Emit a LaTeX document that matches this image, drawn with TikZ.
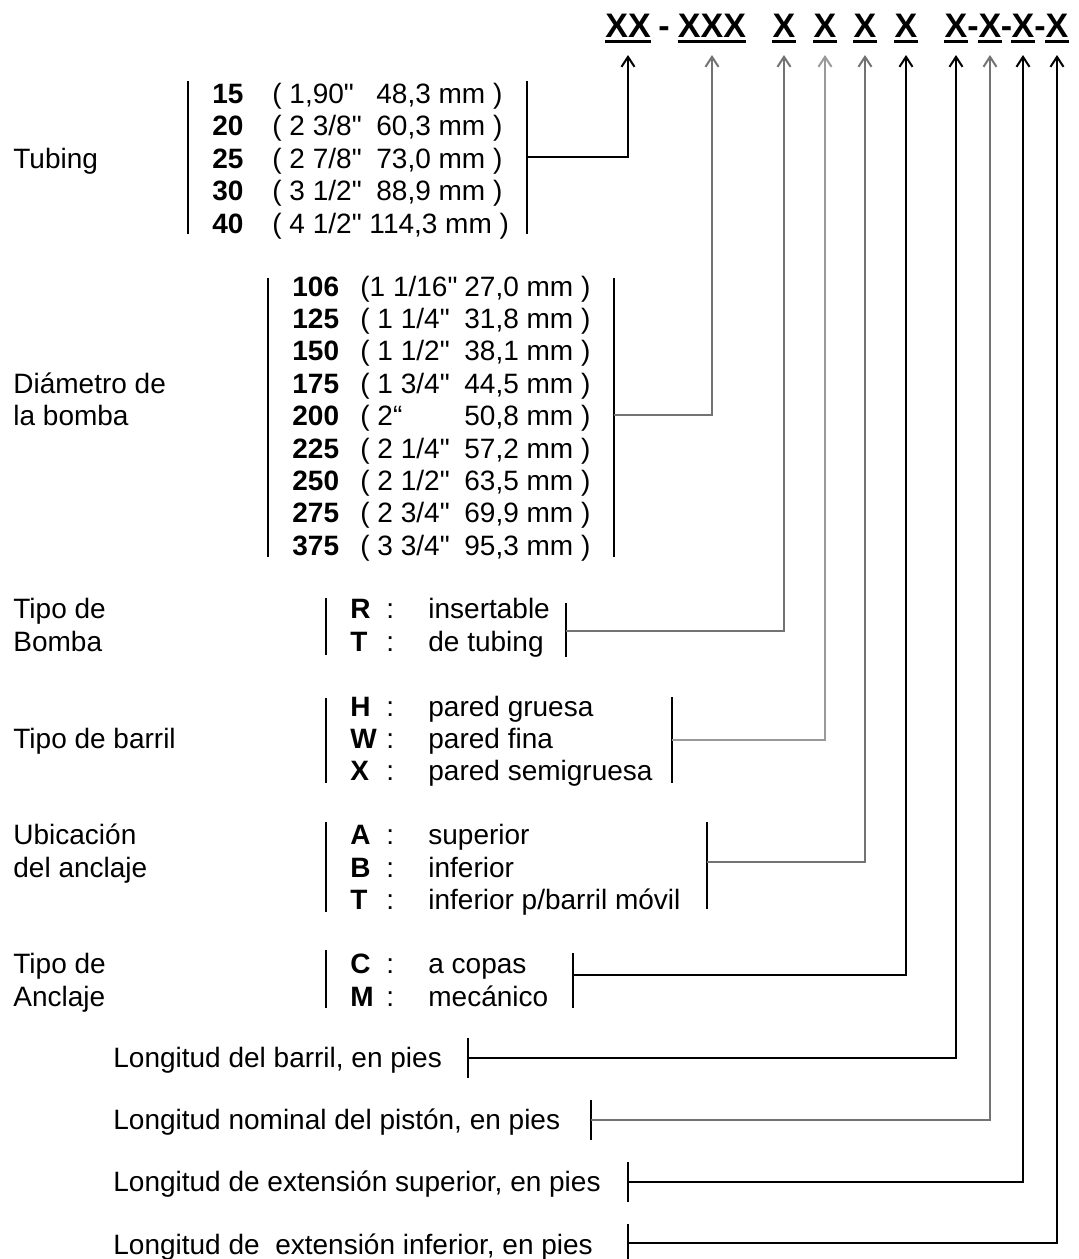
\documentclass[tikz,border=0pt]{standalone}
\usepackage{fontspec}
\setmainfont{Liberation Sans}[Ligatures=TeXOff]
\usetikzlibrary{arrows.meta}

\begin{document}
\begin{tikzpicture}[
    x=0.5pt, y=-0.5pt,
    txt/.style={anchor=base west, inner sep=0pt, font=\fontsize{14}{17}\selectfont},
    code/.style={txt, font=\fontsize{14}{17}\selectfont\bfseries},
    hdr/.style={anchor=base, inner sep=0pt, font=\fontsize{17}{20}\selectfont\bfseries},
    uline/.style={line width=1.1pt},
    bar/.style={line width=0.9pt},
    arr/.style={-{Straight Barb[length=5pt,width=6.5pt,line width=1pt]}, line width=0.9pt},
    garr/.style={arr, draw=black!55}
]
\useasboundingbox (0,0) rectangle (1079,1259);

% Code header
\node[hdr] (hTub) at (628,37) {XX};
\node[hdr] (hDash) at (664,37) {-};
\node[hdr] (hDia) at (712,37) {XXX};
\node[hdr] (hTipo) at (784,37) {X};
\node[hdr] (hBarr) at (825,37) {X};
\node[hdr] (hUbic) at (865,37) {X};
\node[hdr] (hAncl) at (906,37) {X};
\node[hdr] (hLb) at (956,37) {X};
\node[hdr] (hDa) at (973,37) {-};
\node[hdr] (hLp) at (990,37) {X};
\node[hdr] (hDb) at (1006.5,37) {-};
\node[hdr] (hLs) at (1023,37) {X};
\node[hdr] (hDc) at (1040,37) {-};
\node[hdr] (hLi) at (1057,37) {X};
\foreach \n in {hTub,hDia,hTipo,hBarr,hUbic,hAncl,hLb,hLp,hLs,hLi}
  \draw[uline] ([yshift=-2.2pt]\n.base west) -- ([yshift=-2.2pt]\n.base east);
\coordinate (tip) at (0,55);

% Tubing
\node[txt] (tubing) at (13,168) {Tubing};
\draw[bar] (188,81) -- (188,234);
\draw[bar] (527,81) -- (527,234);
\coordinate (tubR) at (527,157);
\node[code] (t15) at (212,103) {15};
\node[txt] (t15i) at (272,103) {( 1,90"};
\node[txt] (t15m) at (376,103) {48,3 mm )};
\node[code] (t20) at (212,135.5) {20};
\node[txt] (t20i) at (272,135.5) {( 2 3/8"};
\node[txt] (t20m) at (376,135.5) {60,3 mm )};
\node[code] (t25) at (212,168) {25};
\node[txt] (t25i) at (272,168) {( 2 7/8"};
\node[txt] (t25m) at (376,168) {73,0 mm )};
\node[code] (t30) at (212,200.5) {30};
\node[txt] (t30i) at (272,200.5) {( 3 1/2"};
\node[txt] (t30m) at (376,200.5) {88,9 mm )};
\node[code] (t40) at (212,233) {40};
\node[txt] (t40i) at (272,233) {( 4 1/2" 114,3 mm )};

% Pump diameter
\node[txt] (diam) at (13,393.2) {Diámetro de};
\node[txt] (diamb) at (13,425.6) {la bomba};
\draw[bar] (268,278) -- (268,557);
\draw[bar] (614,278) -- (614,557);
\coordinate (diaR) at (614,415);
\node[code] (d106) at (292,296) {106};
\node[txt] (d106i) at (360,296) {(1 1/16"};
\node[txt] (d106m) at (464,296) {27,0 mm )};
\node[code] (d125) at (292,328.4) {125};
\node[txt] (d125i) at (360,328.4) {( 1 1/4"};
\node[txt] (d125m) at (464,328.4) {31,8 mm )};
\node[code] (d150) at (292,360.8) {150};
\node[txt] (d150i) at (360,360.8) {( 1 1/2"};
\node[txt] (d150m) at (464,360.8) {38,1 mm )};
\node[code] (d175) at (292,393.2) {175};
\node[txt] (d175i) at (360,393.2) {( 1 3/4"};
\node[txt] (d175m) at (464,393.2) {44,5 mm )};
\node[code] (d200) at (292,425.6) {200};
\node[txt] (d200i) at (360,425.6) {( 2“};
\node[txt] (d200m) at (464,425.6) {50,8 mm )};
\node[code] (d225) at (292,458) {225};
\node[txt] (d225i) at (360,458) {( 2 1/4"};
\node[txt] (d225m) at (464,458) {57,2 mm )};
\node[code] (d250) at (292,490.4) {250};
\node[txt] (d250i) at (360,490.4) {( 2 1/2"};
\node[txt] (d250m) at (464,490.4) {63,5 mm )};
\node[code] (d275) at (292,522.8) {275};
\node[txt] (d275i) at (360,522.8) {( 2 3/4"};
\node[txt] (d275m) at (464,522.8) {69,9 mm )};
\node[code] (d375) at (292,555.2) {375};
\node[txt] (d375i) at (360,555.2) {( 3 3/4"};
\node[txt] (d375m) at (464,555.2) {95,3 mm )};

% Pump type
\node[txt] (tipo) at (13,618) {Tipo de};
\node[txt] (tipob) at (13,651) {Bomba};
\draw[bar] (326,598) -- (326,655);
\draw[bar] (566,603) -- (566,657);
\coordinate (tipR) at (566,631);
\node[code] (bR) at (350,618) {R};
\node[txt] (bRc) at (386,618) {:};
\node[txt] (bRt) at (428,618) {insertable};
\node[code] (bT) at (350,651) {T};
\node[txt] (bTc) at (386,651) {:};
\node[txt] (bTt) at (428,651) {de tubing};

% Barrel type
\node[txt] (barr) at (13,748) {Tipo de barril};
\draw[bar] (326,698) -- (326,783);
\draw[bar] (672,697) -- (672,783);
\coordinate (barR) at (672,740);
\node[code] (rH) at (350,716) {H};
\node[txt] (rHc) at (386,716) {:};
\node[txt] (rHt) at (428,716) {pared gruesa};
\node[code] (rW) at (350,748) {W};
\node[txt] (rWc) at (386,748) {:};
\node[txt] (rWt) at (428,748) {pared fina};
\node[code] (rX) at (350,780) {X};
\node[txt] (rXc) at (386,780) {:};
\node[txt] (rXt) at (428,780) {pared semigruesa};

% Anchor location
\node[txt] (ubic) at (13,844) {Ubicación};
\node[txt] (ubicb) at (13,877) {del anclaje};
\draw[bar] (326,822) -- (326,912);
\draw[bar] (707,822) -- (707,909);
\coordinate (ubiR) at (707,862);
\node[code] (uA) at (350,844) {A};
\node[txt] (uAc) at (386,844) {:};
\node[txt] (uAt) at (428,844) {superior};
\node[code] (uB) at (350,877) {B};
\node[txt] (uBc) at (386,877) {:};
\node[txt] (uBt) at (428,877) {inferior};
\node[code] (uT) at (350,909) {T};
\node[txt] (uTc) at (386,909) {:};
\node[txt] (uTt) at (428,909) {inferior p/barril móvil};

% Anchor type
\node[txt] (ancl) at (13,973) {Tipo de};
\node[txt] (anclb) at (13,1006) {Anclaje};
\draw[bar] (326,950) -- (326,1008);
\draw[bar] (573,953) -- (573,1008);
\coordinate (ancR) at (573,975);
\node[code] (aC) at (350,973) {C};
\node[txt] (aCc) at (386,973) {:};
\node[txt] (aCt) at (428,973) {a copas};
\node[code] (aM) at (350,1006) {M};
\node[txt] (aMc) at (386,1006) {:};
\node[txt] (aMt) at (428,1006) {mecánico};

% Lengths
\node[txt] (lenb) at (113,1067) {Longitud del barril, en pies};
\draw[bar] (468,1038) -- (468,1078);
\coordinate (lbR) at (468,1058);
\node[txt] (lenp) at (113,1129) {Longitud nominal del pistón, en pies};
\draw[bar] (591,1100) -- (591,1140);
\coordinate (lpR) at (591,1120);
\node[txt] (lens) at (113,1191) {Longitud de extensión superior, en pies};
\draw[bar] (628,1162) -- (628,1202);
\coordinate (lsR) at (628,1182);
\node[txt] (leni) at (113,1254) {Longitud de~ extensión inferior, en pies};
\draw[bar] (628,1224) -- (628,1262);
\coordinate (liR) at (628,1243);

% Arrows
\draw[arr] (tubR) -| (hTub |- tip);
\draw[garr] (diaR) -| (hDia |- tip);
\draw[garr] (tipR) -| (hTipo |- tip);
\draw[garr, draw=black!40] (barR) -| (hBarr |- tip);
\draw[garr] (ubiR) -| (hUbic |- tip);
\draw[arr] (ancR) -| (hAncl |- tip);
\draw[arr] (lbR) -| (hLb |- tip);
\draw[garr] (lpR) -| (hLp |- tip);
\draw[arr] (lsR) -| (hLs |- tip);
\draw[arr] (liR) -| (hLi |- tip);

\end{tikzpicture}
\end{document}
